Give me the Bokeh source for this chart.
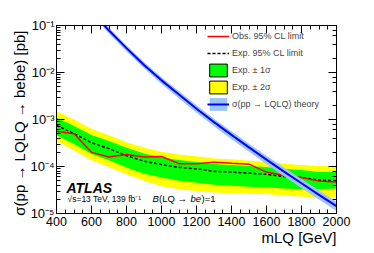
import math
from bokeh.plotting import figure
from bokeh.models import (Label, Legend, LegendItem, LinearAxis, LogAxis, Title,
                          SingleIntervalTicker, LogTicker, CustomJSTickFormatter)
from bokeh.embed import file_html
from bokeh.resources import INLINE

# ---------------- data ----------------
mass = [400, 500, 600, 700, 800, 900, 1000, 1100, 1200, 1300, 1400, 1500,
        1600, 1700, 1800, 1900, 2000]
obs = [5.6e-4, 5.0e-4, 2.0e-4, 1.6e-4, 1.8e-4, 1.6e-4, 1.63e-4, 1.15e-4, 1.14e-4,
       1.23e-4, 1.17e-4, 1.12e-4, 7.6e-5, 6.4e-5, 5.8e-5, 4.9e-5, 4.7e-5]
exp = [7.5e-4, 5.0e-4, 3.2e-4, 2.4e-4, 1.7e-4, 1.3e-4, 1.1e-4, 9.6e-5, 8.9e-5,
       7.9e-5, 7.6e-5, 7.2e-5, 6.8e-5, 6.1e-5, 5.8e-5, 5.1e-5, 5.0e-5]
exp_p1 = [1.1e-3, 7.3e-4, 4.7e-4, 3.5e-4, 2.5e-4, 1.9e-4, 1.55e-4, 1.38e-4, 1.25e-4,
          1.13e-4, 1.08e-4, 1.02e-4, 9.7e-5, 8.8e-5, 8.4e-5, 7.6e-5, 7.6e-5]
exp_m1 = [4.6e-4, 3.0e-4, 1.85e-4, 1.35e-4, 9.5e-5, 7.0e-5, 5.8e-5, 5.0e-5, 4.5e-5,
          4.1e-5, 3.9e-5, 3.7e-5, 3.6e-5, 3.4e-5, 3.3e-5, 3.3e-5, 3.4e-5]
exp_p2 = [1.5e-3, 1.0e-3, 6.3e-4, 4.6e-4, 3.3e-4, 2.5e-4, 2.05e-4, 1.8e-4, 1.65e-4,
          1.48e-4, 1.42e-4, 1.33e-4, 1.25e-4, 1.14e-4, 1.08e-4, 1.02e-4, 1.05e-4]
exp_m2 = [3.5e-4, 2.2e-4, 1.35e-4, 9.8e-5, 6.8e-5, 5.0e-5, 3.8e-5, 3.3e-5, 3.0e-5,
          2.8e-5, 2.7e-5, 2.6e-5, 2.6e-5, 2.4e-5, 2.3e-5, 2.2e-5, 2.2e-5]

th_mass = [600, 700, 800, 900, 1000, 1100, 1200, 1300, 1400, 1500, 1600, 1700,
           1800, 1900, 2000]
theory = [0.20, 0.078, 0.033, 0.0145, 0.0068, 0.0034, 0.0017, 0.00088, 0.00047,
          0.000255, 0.00014, 0.000078, 0.000044, 0.000025, 0.0000143]
th_up = [0.23, 0.090, 0.038, 0.0168, 0.0079, 0.0040, 0.0020, 0.00104, 0.00056,
         0.000305, 0.000169, 0.000095, 0.000054, 0.000031, 0.0000178]
th_dn = [0.173, 0.067, 0.028, 0.0123, 0.0057, 0.0028, 0.00140, 0.00072, 0.00038,
         0.000205, 0.000112, 0.000062, 0.000035, 0.0000198, 0.0000113]

legend_labels = ["Obs. 95% CL limit", "Exp. 95% CL limit", "Exp. \u00b1 1\u03c3",
                 "Exp. \u00b1 2\u03c3", "\u03c3(pp \u2192 LQLQ) theory"]
x_title = "mLQ [GeV]"
y_title = "\u03c3(pp \u2192 LQLQ \u2192 bebe) [pb]"

FONT = "Liberation Sans"
X0, X1 = 400, 2000
Y0, Y1 = 1e-5, 1e-1
FW, FH = 280, 188          # frame size in px

p = figure(width=372, height=251, x_range=(X0, X1), y_range=(Y0, Y1),
           y_axis_type="log", output_backend="svg", toolbar_location=None,
           min_border_left=56, min_border_right=36, min_border_top=25,
           min_border_bottom=38)
p.background_fill_color = "white"
p.border_fill_color = "white"
p.outline_line_color = "black"
p.outline_line_width = 1
p.xgrid.visible = False
p.ygrid.visible = False

# bands and lines
r_y = p.varea(x=mass, y1=exp_m2, y2=exp_p2, fill_color="#ffff00")
r_g = p.varea(x=mass, y1=exp_m1, y2=exp_p1, fill_color="#00ff00")
r_exp = p.line(mass, exp, line_color="black", line_width=1.5, line_dash="3 2")
r_obs = p.line(mass, obs, line_color="#ff0000", line_width=1.5)
r_thb = p.varea(x=th_mass, y1=th_dn, y2=th_up, fill_color="#9cc6f2")
r_th = p.line(th_mass, theory, line_color="#0000ff", line_width=2)

# legend-only boxes with black borders (NaN -> never drawn in the plot)
nan = float("nan")
d_g = p.quad(left=[nan], right=[nan], top=[nan], bottom=[nan], fill_color="#00ff00",
             line_color="black", line_width=1)
d_y = p.quad(left=[nan], right=[nan], top=[nan], bottom=[nan], fill_color="#ffff00",
             line_color="black", line_width=1)

legend = Legend(items=[
    LegendItem(label=legend_labels[0], renderers=[r_obs]),
    LegendItem(label=legend_labels[1], renderers=[r_exp]),
    LegendItem(label=legend_labels[2], renderers=[d_g]),
    LegendItem(label=legend_labels[3], renderers=[d_y]),
    LegendItem(label=legend_labels[4], renderers=[r_thb, r_th]),
], location=(151, 101), glyph_width=22, glyph_height=16, label_height=16,
    spacing=1, padding=0, margin=0, label_standoff=3,
    label_text_font_size="9px", label_text_font=FONT,
    border_line_alpha=0, background_fill_alpha=0)
p.add_layout(legend)

# axes
p.xaxis.ticker = SingleIntervalTicker(interval=200, num_minor_ticks=4)
sup_code = """
const e = Math.round(Math.log10(tick));
const sup = {'-':'\u207b','0':'\u2070','1':'\u00b9','2':'\u00b2','3':'\u00b3','4':'\u2074',
             '5':'\u2075','6':'\u2076','7':'\u2077','8':'\u2078','9':'\u2079'};
return '10' + String(e).split('').map(c => sup[c]).join('');
"""
p.yaxis.formatter = CustomJSTickFormatter(code=sup_code)
for ax in (p.xaxis[0], p.yaxis[0]):
    ax.major_tick_in = 8
    ax.major_tick_out = 0
    ax.minor_tick_in = 4
    ax.minor_tick_out = 0
    ax.major_label_text_font = FONT
    ax.major_label_text_color = "black"
    ax.axis_line_color = "black"
    ax.major_tick_line_color = "black"
    ax.minor_tick_line_color = "black"
p.xaxis.major_label_text_font_size = "12.5px"
p.yaxis.major_label_text_font_size = "13px"
p.xaxis.major_label_standoff = 3
p.yaxis.major_label_standoff = 2

blank = CustomJSTickFormatter(code="return '';")
top_ax = LinearAxis(ticker=SingleIntervalTicker(interval=200, num_minor_ticks=4),
                    formatter=blank, major_tick_in=8, major_tick_out=0,
                    minor_tick_in=4, minor_tick_out=0, major_label_standoff=0)
right_ax = LogAxis(ticker=LogTicker(), formatter=blank, major_tick_in=8,
                   major_tick_out=0, minor_tick_in=4, minor_tick_out=0,
                   major_label_standoff=0)
p.add_layout(top_ax, "above")
p.add_layout(right_ax, "right")

# axis titles (side-panel titles, aligned to the top / right ends)
p.add_layout(Title(text=y_title, align="right", text_font=FONT, text_font_size="15px",
                   text_font_style="normal", standoff=0, offset=5,
                   text_color="black"), "left")
p.add_layout(Title(text=x_title, align="right", text_font=FONT, text_font_size="15px",
                   text_font_style="normal", standoff=-3, text_color="black"), "below")

# in-frame texts: pixel offsets from the frame's bottom-left corner,
# converted to data coordinates of the (linear x, log y) frame
def dx(px):
    return X0 + px * (X1 - X0) / FW

def dy(px):
    return 10 ** (math.log10(Y0) + px * (math.log10(Y1) - math.log10(Y0)) / FH)

def lab(text, px, py, size, style="normal"):
    p.add_layout(Label(x=dx(px), y=dy(py), text=text,
                       text_font=FONT, text_font_size=size, text_font_style=style,
                       text_align="left", text_baseline="alphabetic",
                       text_color="black"))

lab("ATLAS", 10, 26, "14px", "bold italic")
lab("\u221as=13 TeV, 139 fb\u207b\u00b9", 11, 15, "8.5px")
lab("B", 96, 15, "9.5px", "italic")
lab("(LQ \u2192 ", 102.5, 15, "9.5px")
lab("be", 134, 15, "9.5px", "italic")
lab(")=1", 145, 15, "9.5px")

open("out.html", "w", encoding="utf-8").write(file_html(p, INLINE))
